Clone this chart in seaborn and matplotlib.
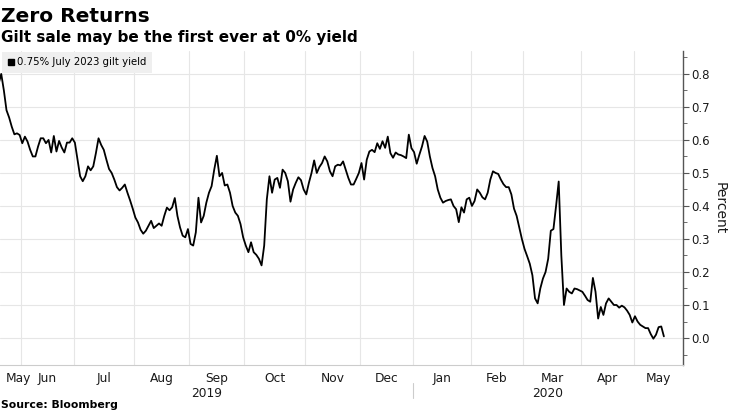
import numpy as np
import pandas as pd
import matplotlib.pyplot as plt
import matplotlib.transforms as mtransforms
from matplotlib.lines import Line2D
import seaborn as sns

# UK trading days, 20 May 2019 - 19 May 2020 (bank holidays removed)
uk_holidays = ["2019-05-27", "2019-08-26", "2019-12-25", "2019-12-26",
               "2020-01-01", "2020-04-10", "2020-04-13", "2020-05-08"]

# 0.75% July 2023 gilt yield, percent, one value per trading day
may19 = [0.77, 0.80, 0.75, 0.69, 0.668, 0.64, 0.617, 0.62, 0.615]
jun19 = [0.59, 0.61, 0.595, 0.57, 0.55, 0.55, 0.58, 0.605, 0.605, 0.59,
         0.60, 0.562, 0.612, 0.565, 0.597, 0.577, 0.562, 0.592, 0.592, 0.605]
jul19 = [0.592, 0.54, 0.49, 0.475, 0.49, 0.52, 0.508, 0.52, 0.56, 0.605,
         0.585, 0.57, 0.54, 0.512, 0.50, 0.48, 0.457, 0.447, 0.455, 0.465,
         0.44, 0.417, 0.392]
aug19 = [0.365, 0.35, 0.328, 0.316, 0.325, 0.34, 0.355, 0.333, 0.34, 0.347,
         0.34, 0.37, 0.395, 0.387, 0.396, 0.424, 0.37, 0.335, 0.31, 0.305, 0.33]
sep19 = [0.285, 0.28, 0.32, 0.425, 0.35, 0.37, 0.41, 0.44, 0.46, 0.51,
         0.552, 0.49, 0.50, 0.462, 0.465, 0.44, 0.40, 0.38, 0.37, 0.345, 0.305]
oct19 = [0.28, 0.26, 0.29, 0.26, 0.252, 0.24, 0.22, 0.28, 0.42, 0.49,
         0.44, 0.48, 0.485, 0.455, 0.51, 0.50, 0.475, 0.413, 0.45, 0.47,
         0.487, 0.478, 0.45]
nov19 = [0.435, 0.47, 0.50, 0.538, 0.50, 0.518, 0.53, 0.55, 0.535, 0.505,
         0.49, 0.52, 0.525, 0.523, 0.535, 0.51, 0.485, 0.465, 0.465, 0.482, 0.50]
dec19 = [0.53, 0.48, 0.54, 0.565, 0.57, 0.563, 0.59, 0.573, 0.596, 0.576,
         0.61, 0.56, 0.546, 0.562, 0.556, 0.554, 0.55, 0.545, 0.616, 0.575]
jan20 = [0.563, 0.528, 0.555, 0.58, 0.612, 0.595, 0.55, 0.515, 0.49, 0.45,
         0.425, 0.41, 0.415, 0.418, 0.42, 0.40, 0.39, 0.351, 0.396, 0.38,
         0.42, 0.425]
feb20 = [0.40, 0.415, 0.45, 0.44, 0.426, 0.42, 0.44, 0.48, 0.505, 0.50,
         0.497, 0.48, 0.466, 0.457, 0.457, 0.435, 0.392, 0.37, 0.335, 0.30]
mar20 = [0.27, 0.248, 0.225, 0.19, 0.12, 0.105, 0.15, 0.18, 0.20, 0.24,
         0.325, 0.33, 0.40, 0.474, 0.25, 0.10, 0.15, 0.14, 0.135, 0.15,
         0.148, 0.144]
apr20 = [0.14, 0.128, 0.115, 0.11, 0.182, 0.14, 0.059, 0.094, 0.07, 0.105,
         0.12, 0.11, 0.10, 0.10, 0.092, 0.098, 0.093, 0.083, 0.07, 0.047]
may20 = [0.066, 0.05, 0.04, 0.035, 0.03, 0.03, 0.012, -0.002, 0.01, 0.033,
         0.035, 0.005]

yields = (may19 + jun19 + jul19 + aug19 + sep19 + oct19 + nov19 + dec19
          + jan20 + feb20 + mar20 + apr20 + may20)
dates = pd.bdate_range("2019-05-20", "2020-05-19", freq="C", holidays=uk_holidays)

df = pd.DataFrame({"date": dates, "pos": np.arange(len(dates)), "yield": yields})

sns.set_style("white")
plt.rcParams["font.family"] = ["DejaVu Sans"]
plt.rcParams["text.color"] = "black"

fig = plt.figure(figsize=(7.35, 4.13), dpi=100)
ax = fig.add_axes([0.0, 0.116, 0.929, 0.761])

sns.lineplot(data=df, x="pos", y="yield", ax=ax, color="black", linewidth=1.3)

xlim = (0.53, 260.2)
ax.set_xlim(*xlim)
ax.set_ylim(-0.082, 0.87)

# month boundaries on a trading-day axis
month = df["date"].dt.to_period("M")
first_pos = df.groupby(month)["pos"].min().values
bounds = first_pos[1:] - 0.5
edges = np.concatenate([[xlim[0]], bounds, [xlim[1]]])
centers = (edges[:-1] + edges[1:]) / 2
centers[0] = max(centers[0], xlim[0] + 7)   # keep first "May" inside
names = [p.strftime("%b") for p in month.unique()]

ax.set_xticks(bounds)
ax.set_xticklabels([])
ax.set_xticks(centers, minor=True)
ax.set_xticklabels(names, minor=True, fontsize=8.8, color="#1a1a1a")
ax.tick_params(axis="x", which="major", length=4, color="#aaaaaa", direction="out")
ax.tick_params(axis="x", which="minor", length=0, pad=5)

# right-hand y axis
ax.yaxis.tick_right()
ax.yaxis.set_label_position("right")
ax.set_yticks(np.arange(0, 0.81, 0.1))
ax.set_yticks(np.arange(-0.05, 0.86, 0.05), minor=True)
ax.set_yticklabels([f"{v:.1f}" for v in np.arange(0, 0.81, 0.1)], fontsize=8.5, color="#1a1a1a")
ax.tick_params(axis="y", which="major", length=4, color="#555555", pad=2)
ax.tick_params(axis="y", which="minor", length=3, color="#555555")
ax.set_ylabel("Percent", rotation=270, fontsize=10, labelpad=12, color="#1a1a1a")
ax.set_xlabel("")

ax.grid(True, which="major", color="#e6e6e6", linewidth=0.8)
for s in ["top", "left"]:
    ax.spines[s].set_visible(False)
ax.spines["right"].set_color("#555555")
ax.spines["right"].set_linewidth(1)
ax.spines["bottom"].set_color("#cccccc")
ax.spines["bottom"].set_linewidth(0.8)

# years under the months
trans = mtransforms.blended_transform_factory(ax.transData, ax.transAxes)
split = bounds[list(names[1:]).index("Jan")]
ax.text((xlim[0] + split) / 2, -0.089, "2019", transform=trans, ha="center",
        va="center", fontsize=8.8, color="#1a1a1a")
ax.text((split + xlim[1]) / 2, -0.089, "2020", transform=trans, ha="center",
        va="center", fontsize=8.8, color="#1a1a1a")
ax.plot([split, split], [-0.057, -0.104], transform=trans, color="#cccccc",
        linewidth=0.8, clip_on=False)

handle = Line2D([], [], marker="s", color="black", linestyle="none", markersize=5)
ax.legend([handle], ["0.75% July 2023 gilt yield"], loc="upper left",
          bbox_to_anchor=(0.003, 0.997), frameon=True, fancybox=False,
          facecolor="#efefef", edgecolor="none", framealpha=1, fontsize=7.3,
          handlelength=0.7, handletextpad=0.25, borderpad=0.55, borderaxespad=0)

fig.text(0.002, 0.947, "Zero Returns", fontsize=14.5, fontweight="bold", va="baseline")
fig.text(0.002, 0.898, "Gilt sale may be the first ever at 0% yield", fontsize=11,
         fontweight="bold", va="baseline")
fig.text(0.002, 0.012, "Source: Bloomberg", fontsize=7.8, fontweight="bold", va="baseline")

fig.savefig("out.png", dpi=100)
